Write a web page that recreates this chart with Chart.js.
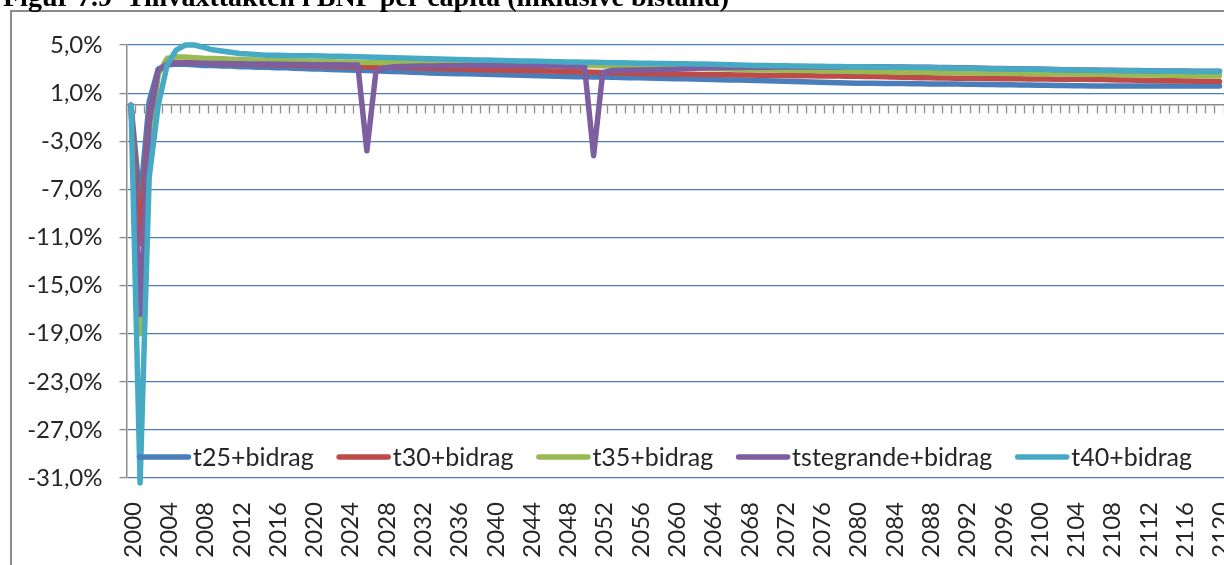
<!DOCTYPE html>
<html>
<head>
<meta charset="utf-8">
<title>Tillväxttakten i BNP per capita</title>
<script src="https://cdn.jsdelivr.net/npm/chart.js@4.4.1/dist/chart.umd.min.js"></script>
<style>
  html, body { margin: 0; padding: 0; background: #ffffff; overflow: hidden; }
  #wrap { position: relative; width: 1224px; height: 565px; }
  canvas { display: block; }
</style>
</head>
<body>
<div id="wrap"><canvas id="chart" width="1224" height="565"></canvas></div>
<script>
// ---- Data ---------------------------------------------------------------
const years = [
  '2000','2001','2002','2003','2004','2005','2006','2007','2008','2009',
  '2010','2011','2012','2013','2014','2015','2016','2017','2018','2019',
  '2020','2021','2022','2023','2024','2025','2026','2027','2028','2029',
  '2030','2031','2032','2033','2034','2035','2036','2037','2038','2039',
  '2040','2041','2042','2043','2044','2045','2046','2047','2048','2049',
  '2050','2051','2052','2053','2054','2055','2056','2057','2058','2059',
  '2060','2061','2062','2063','2064','2065','2066','2067','2068','2069',
  '2070','2071','2072','2073','2074','2075','2076','2077','2078','2079',
  '2080','2081','2082','2083','2084','2085','2086','2087','2088','2089',
  '2090','2091','2092','2093','2094','2095','2096','2097','2098','2099',
  '2100','2101','2102','2103','2104','2105','2106','2107','2108','2109',
  '2110','2111','2112','2113','2114','2115','2116','2117','2118','2119',
  '2120'
];

// Year labels shown under the axis
const yearTickLabels = [
  '2000','2004','2008','2012','2016','2020','2024','2028','2032','2036','2040',
  '2044','2048','2052','2056','2060','2064','2068','2072','2076','2080','2084',
  '2088','2092','2096','2100','2104','2108','2112','2116','2120'
];

// Growth rate ticks (%)
const percentTicks = [5, 1, -3, -7, -11, -15, -19, -23, -27, -31];

// Annual growth of GDP per capita, percent
const t25 = [
  0, -8.0, 0.3, 3.0, 3.35, 3.4, 3.4, 3.35, 3.3, 3.3,
  3.25, 3.25, 3.2, 3.2, 3.15, 3.15, 3.1, 3.1, 3.07, 3.05,
  3.0, 3.0, 2.97, 2.95, 2.92, 2.9, 2.88, 2.85, 2.82, 2.8,
  2.77, 2.74, 2.71, 2.68, 2.66, 2.64, 2.62, 2.6, 2.58, 2.56,
  2.54, 2.52, 2.5, 2.48, 2.47, 2.45, 2.43, 2.41, 2.39, 2.37,
  2.36, 2.34, 2.33, 2.31, 2.3, 2.28, 2.27, 2.25, 2.24, 2.22,
  2.2, 2.19, 2.17, 2.15, 2.13, 2.12, 2.1, 2.08, 2.07, 2.05,
  2.03, 2.01, 1.99, 1.97, 1.95, 1.93, 1.91, 1.89, 1.87, 1.85,
  1.83, 1.82, 1.81, 1.8, 1.8, 1.79, 1.78, 1.77, 1.76, 1.76,
  1.75, 1.75, 1.74, 1.73, 1.72, 1.71, 1.7, 1.69, 1.68, 1.67,
  1.66, 1.65, 1.64, 1.63, 1.62, 1.61, 1.6, 1.6, 1.6, 1.6,
  1.6, 1.6, 1.6, 1.6, 1.6, 1.6, 1.6, 1.6, 1.6, 1.6,
  1.6
];

const t30 = [
  0, -11.5, -1.0, 2.8, 3.45, 3.55, 3.55, 3.5, 3.5, 3.45,
  3.45, 3.42, 3.4, 3.4, 3.38, 3.36, 3.35, 3.33, 3.32, 3.3,
  3.28, 3.27, 3.25, 3.24, 3.22, 3.21, 3.2, 3.18, 3.16, 3.14,
  3.12, 3.1, 3.08, 3.06, 3.04, 3.02, 3.0, 2.98, 2.96, 2.95,
  2.93, 2.92, 2.9, 2.89, 2.88, 2.86, 2.84, 2.82, 2.8, 2.78,
  2.76, 2.74, 2.72, 2.7, 2.68, 2.66, 2.64, 2.62, 2.6, 2.59,
  2.58, 2.57, 2.56, 2.55, 2.54, 2.53, 2.52, 2.51, 2.5, 2.49,
  2.48, 2.47, 2.46, 2.45, 2.44, 2.44, 2.43, 2.43, 2.42, 2.41,
  2.4, 2.39, 2.38, 2.36, 2.34, 2.32, 2.3, 2.28, 2.27, 2.26,
  2.25, 2.24, 2.24, 2.23, 2.22, 2.21, 2.2, 2.2, 2.19, 2.18,
  2.18, 2.17, 2.16, 2.16, 2.16, 2.15, 2.14, 2.13, 2.12, 2.1,
  2.08, 2.06, 2.05, 2.04, 2.03, 2.02, 2.01, 2.0, 1.99, 1.98,
  1.97
];

const t35 = [
  0, -19.0, -3.5, 2.6, 3.9, 4.0, 4.0, 3.95, 3.9, 3.88,
  3.85, 3.82, 3.8, 3.78, 3.76, 3.74, 3.72, 3.7, 3.68, 3.66,
  3.64, 3.62, 3.6, 3.59, 3.58, 3.56, 3.55, 3.54, 3.53, 3.52,
  3.52, 3.51, 3.5, 3.5, 3.49, 3.49, 3.48, 3.48, 3.47, 3.47,
  3.46, 3.46, 3.45, 3.45, 3.44, 3.42, 3.4, 3.38, 3.36, 3.34,
  3.32, 3.3, 3.28, 3.26, 3.24, 3.22, 3.2, 3.18, 3.16, 3.14,
  3.12, 3.1, 3.08, 3.06, 3.04, 3.02, 3.0, 2.98, 2.96, 2.95,
  2.94, 2.92, 2.91, 2.9, 2.88, 2.87, 2.86, 2.85, 2.84, 2.82,
  2.8, 2.79, 2.78, 2.77, 2.76, 2.75, 2.74, 2.73, 2.72, 2.71,
  2.7, 2.69, 2.68, 2.67, 2.66, 2.66, 2.65, 2.64, 2.63, 2.62,
  2.62, 2.61, 2.6, 2.6, 2.59, 2.58, 2.57, 2.56, 2.55, 2.54,
  2.53, 2.52, 2.51, 2.5, 2.49, 2.48, 2.47, 2.46, 2.45, 2.44,
  2.43
];

const tstegrande = [
  0, -17.4, -1.5, 2.9, 3.45, 3.5, 3.5, 3.5, 3.48, 3.47,
  3.46, 3.45, 3.44, 3.43, 3.42, 3.41, 3.4, 3.39, 3.38, 3.37,
  3.36, 3.36, 3.35, 3.35, 3.34, 3.34, -3.8, 2.8, 3.1, 3.2,
  3.22, 3.24, 3.25, 3.26, 3.27, 3.28, 3.28, 3.29, 3.29, 3.3,
  3.3, 3.3, 3.3, 3.29, 3.28, 3.27, 3.26, 3.25, 3.24, 3.22,
  3.2, -4.2, 2.7, 2.88, 2.9, 2.92, 2.93, 2.94, 2.95, 2.96,
  2.98, 3.02, 3.06, 3.08, 3.1, 3.11, 3.12, 3.13, 3.14, 3.15,
  3.16, 3.17, 3.17, 3.18, 3.18, 3.18, 3.18, 3.18, 3.18, 3.19,
  3.19, 3.19, 3.19, 3.19, 3.18, 3.17, 3.16, 3.15, 3.14, 3.13,
  3.12, 3.11, 3.1, 3.08, 3.07, 3.05, 3.04, 3.03, 3.02, 3.01,
  3.0, 2.98, 2.97, 2.95, 2.94, 2.93, 2.92, 2.91, 2.9, 2.89,
  2.88, 2.87, 2.86, 2.85, 2.84, 2.84, 2.83, 2.82, 2.82, 2.81,
  2.81
];

const t40 = [
  0, -31.4, -6.0, 0.0, 3.4, 4.6, 5.0, 5.0, 4.8, 4.6,
  4.5, 4.4, 4.3, 4.25, 4.2, 4.15, 4.15, 4.12, 4.1, 4.1,
  4.1, 4.08, 4.07, 4.06, 4.05, 4.03, 4.0, 3.98, 3.96, 3.94,
  3.92, 3.9, 3.88, 3.86, 3.84, 3.82, 3.8, 3.78, 3.76, 3.75,
  3.73, 3.72, 3.7, 3.68, 3.66, 3.64, 3.62, 3.6, 3.59, 3.58,
  3.57, 3.56, 3.55, 3.53, 3.52, 3.5, 3.49, 3.48, 3.47, 3.46,
  3.45, 3.44, 3.42, 3.41, 3.4, 3.38, 3.36, 3.34, 3.32, 3.3,
  3.29, 3.28, 3.27, 3.26, 3.25, 3.24, 3.23, 3.22, 3.21, 3.2,
  3.2, 3.19, 3.18, 3.17, 3.16, 3.15, 3.14, 3.13, 3.12, 3.11,
  3.1, 3.09, 3.07, 3.06, 3.05, 3.03, 3.02, 3.01, 3.0, 2.99,
  2.98, 2.96, 2.95, 2.93, 2.92, 2.91, 2.9, 2.89, 2.88, 2.87,
  2.86, 2.85, 2.84, 2.83, 2.82, 2.82, 2.81, 2.8, 2.8, 2.79,
  2.79
];

const seriesNames = ['t25+bidrag', 't30+bidrag', 't35+bidrag', 'tstegrande+bidrag', 't40+bidrag'];
const seriesValues = [t25, t30, t35, tstegrande, t40];
const seriesColors = ['#4a7ebb', '#be4b48', '#98b954', '#7d5fa0', '#46aac5'];

// ---- Styling ------------------------------------------------------------
const FONT = 'Lato, "Open Sans", "DejaVu Sans", sans-serif';
const TEXT = '#262626';
const AXIS_GRAY = '#8c8c8c';
const GRID_BLUE = '#4a7ebb';
const LINE_WIDTH = 5.5;
const TITLE = 'Figur 7.9  Tillväxttakten i BNP per capita (inklusive bistånd)';

// White page, outer chart frame and the figure caption
const framePlugin = {
  id: 'frame',
  beforeDraw(chart) {
    const ctx = chart.ctx;
    ctx.save();
    ctx.fillStyle = '#ffffff';
    ctx.fillRect(0, 0, chart.width, chart.height);
    ctx.strokeStyle = AXIS_GRAY;
    ctx.lineWidth = 2;
    ctx.strokeRect(11, 11, chart.width + 20, chart.height + 20);
    ctx.fillStyle = '#000000';
    ctx.font = 'bold 28px "Liberation Serif", "Times New Roman", serif';
    ctx.textBaseline = 'alphabetic';
    ctx.textAlign = 'left';
    ctx.fillText(TITLE, 3, 6);
    ctx.restore();
  }
};

// Legend row drawn inside the plot, across the bottom band
const legendPlugin = {
  id: 'insideLegend',
  afterDatasetsDraw(chart) {
    const ctx = chart.ctx;
    const left = 137, right = 1192, y = 457;
    const sample = 54, textGap = 2;
    ctx.save();
    ctx.font = '25px ' + FONT;
    const widths = seriesNames.map(n => ctx.measureText(n).width);
    const fixed = widths.reduce((a, b) => a + b, 0) + seriesNames.length * (sample + textGap);
    const gap = (right - left - fixed) / (seriesNames.length - 1);
    let x = left;
    seriesNames.forEach((name, i) => {
      ctx.strokeStyle = seriesColors[i];
      ctx.lineWidth = LINE_WIDTH;
      ctx.lineCap = 'round';
      ctx.beginPath();
      ctx.moveTo(x + 2.5, y);
      ctx.lineTo(x + sample - 2.5, y);
      ctx.stroke();
      ctx.fillStyle = TEXT;
      ctx.textBaseline = 'middle';
      ctx.textAlign = 'left';
      ctx.fillText(name, x + sample + textGap, y + 1);
      x += sample + textGap + widths[i] + gap;
    });
    ctx.restore();
  }
};

const datasets = seriesNames.map((name, i) => ({
  label: name,
  data: seriesValues[i],
  borderColor: seriesColors[i],
  backgroundColor: seriesColors[i],
  borderWidth: LINE_WIDTH,
  pointRadius: 0,
  pointHoverRadius: 0,
  tension: 0,
  borderJoinStyle: 'round',
  borderCapStyle: 'round',
  clip: 8,
  order: seriesNames.length - i
}));

new Chart(document.getElementById('chart'), {
  type: 'line',
  data: { labels: years, datasets },
  options: {
    responsive: false,
    animation: false,
    devicePixelRatio: 1,
    events: [],
    layout: { padding: { left: 0, right: 0, top: 45, bottom: 0 } },
    plugins: {
      legend: { display: false },
      tooltip: { enabled: false },
      title: { display: false }
    },
    scales: {
      x: {
        type: 'category',
        position: 'bottom',
        offset: true,
        grid: { display: false, drawTicks: false },
        border: { display: false },
        ticks: {
          autoSkip: false,
          minRotation: 90,
          maxRotation: 90,
          padding: 24,
          labelOffset: 2,
          color: TEXT,
          font: { family: FONT, size: 24 },
          callback: function (value) {
            const lab = this.getLabelForValue(value);
            return yearTickLabels.includes(lab) ? lab : '';
          }
        },
        afterFit: s => { s.height = 87; s.paddingLeft = 0; s.paddingRight = 0; }
      },
      xZero: {
        type: 'category',
        axis: 'x',
        position: { y: 0 },
        offset: true,
        grid: {
          display: true,
          offset: true,
          drawOnChartArea: false,
          drawTicks: true,
          tickLength: 8,
          tickColor: AXIS_GRAY,
          tickWidth: 1.3
        },
        border: { display: true, color: AXIS_GRAY, width: 1.5 },
        ticks: { display: false },
        afterFit: s => { s.paddingLeft = 0; s.paddingRight = 0; }
      },
      y: {
        type: 'linear',
        position: 'left',
        min: -31,
        max: 5,
        afterBuildTicks: s => { s.ticks = percentTicks.map(v => ({ value: v })); },
        ticks: {
          padding: 17,
          color: TEXT,
          font: { family: FONT, size: 24 },
          callback: v => v.toFixed(1).replace('.', ',') + '%'
        },
        grid: {
          color: GRID_BLUE,
          lineWidth: 1.2,
          drawTicks: true,
          tickLength: 7,
          tickColor: AXIS_GRAY,
          tickWidth: 1.3
        },
        border: { display: true, color: AXIS_GRAY, width: 1.5 },
        afterFit: s => { s.width = 126.5; s.paddingTop = 0; s.paddingBottom = 0; }
      }
    }
  },
  plugins: [framePlugin, legendPlugin]
});
</script>
</body>
</html>
